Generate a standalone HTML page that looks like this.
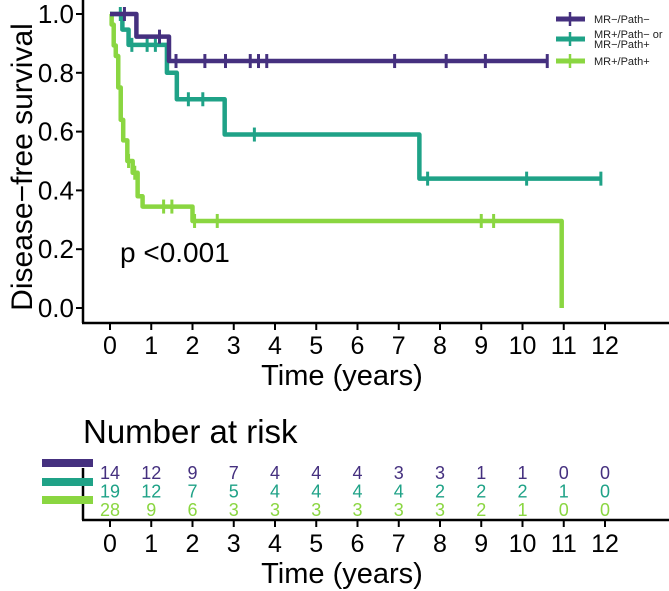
<!DOCTYPE html>
<html><head><meta charset="utf-8"><style>
html,body{margin:0;padding:0;background:#fff;}
svg{display:block;font-family:"Liberation Sans",Arial,sans-serif;}
</style></head><body>
<svg id="chart" width="669" height="591" viewBox="0 0 669 591" xmlns="http://www.w3.org/2000/svg">
<g id="main"></g>
<g id="risk"></g>
</svg>
<script>
const xTicks=[0,1,2,3,4,5,6,7,8,9,10,11,12];
const yTicks=[0,0.2,0.4,0.6,0.8,1.0];
const groupNames=["MR\u2212/Path\u2212","MR+/Path\u2212 or MR\u2212/Path+","MR+/Path+"];
const colors=["#45307f","#1fa287","#8ad641"];
// step drops
const purpleTimes=[0.64,1.43];
const purpleSurv=[0.923,0.84];
const purpleEnd=10.6;
const tealTimes=[0.3,0.45,1.38,1.62,2.78,7.5];
const tealSurv=[0.947,0.895,0.80,0.71,0.59,0.44];
const tealEnd=11.9;
const greenTimes=[0.04,0.09,0.14,0.2,0.26,0.32,0.42,0.55,0.67,0.79,2.0,10.95];
const greenSurv=[0.964,0.893,0.857,0.75,0.64,0.57,0.50,0.46,0.38,0.345,0.296,0];
const greenEnd=10.95;
// censor marks
const purpleCensor=[0.35,1.2,1.6,2.3,2.8,3.4,3.6,3.8,6.9,8.15,9.1,10.6];
const tealCensor=[0.25,0.53,0.9,1.1,1.9,2.25,3.5,7.7,10.1,11.9];
const greenCensor=[0.45,0.6,1.3,1.5,2.05,2.6,9.0,9.3];
// risk table
const riskPurple=[14,12,9,7,4,4,4,3,3,1,1,0,0];
const riskTeal=[19,12,7,5,4,4,4,4,2,2,2,1,0];
const riskGreen=[28,9,6,3,3,3,3,3,3,2,1,0,0];

const NS="http://www.w3.org/2000/svg";
const X=t=>110+t*41.25;
const Y=v=>308-v*294;
function mk(parent,tag,attrs,text){const e=document.createElementNS(NS,tag);for(const k in attrs)e.setAttribute(k,attrs[k]);if(text!==undefined)e.textContent=text;parent.appendChild(e);return e;}
const main=document.getElementById('main');
const risk=document.getElementById('risk');

let e=mk(main,'line',{x1:83,y1:0,x2:83,y2:323,stroke:'#000','stroke-width':2.5});


e=mk(main,'line',{x1:82,y1:323,x2:669,y2:323,stroke:'#000','stroke-width':2.5});


yTicks.forEach(v=>{
  mk(main,'line',{x1:76,x2:83,y1:Y(v),y2:Y(v),stroke:'#000','stroke-width':2});
  e=mk(main,'text',{x:74,y:Y(v)+9,'text-anchor':'end','font-size':26},v.toFixed(1));
  
  
});
xTicks.forEach(t=>{
  mk(main,'line',{x1:X(t),x2:X(t),y1:323,y2:330,stroke:'#000','stroke-width':2});
  e=mk(main,'text',{x:X(t),y:354,'text-anchor':'middle','font-size':25},t);
  
  
});
e=mk(main,'text',{x:342,y:385,'text-anchor':'middle','font-size':29},'Time (years)');


e=mk(main,'text',{x:0,y:0,'text-anchor':'middle','font-size':30,transform:'translate(32,167) rotate(-90)'},'Disease\u2212free survival');


e=mk(main,'text',{x:120,y:262,'font-size':28},'p <0.001');



function curve(times,surv,end,censor,color,name){
  let d=`M${X(0)},${Y(1)}`;
  times.forEach((t,i)=>{d+=` H${X(t)} V${Y(surv[i])}`;});
  const last=times[times.length-1];
  if(end>last) d+=` H${X(end)}`;
  let p=mk(main,'path',{d:d,fill:'none',stroke:color,'stroke-width':4.5,'stroke-linejoin':'round'});
  
  
  censor.forEach(c=>{
    let v=1;times.forEach((t,i)=>{if(t<=c)v=surv[i];});
    let m=mk(main,'line',{x1:X(c),x2:X(c),y1:Y(v)-7,y2:Y(v)+7,stroke:color,'stroke-width':3});
    
    
  });
}
curve(greenTimes,greenSurv,greenEnd,greenCensor,colors[2],'mr-pos-path-pos');
curve(tealTimes,tealSurv,tealEnd,tealCensor,colors[1],'mixed');
curve(purpleTimes,purpleSurv,purpleEnd,purpleCensor,colors[0],'mr-neg-path-neg');

const lg=mk(main,'g',{});


const legY=[19,39,61];
groupNames.forEach((n,i)=>{
  const y=legY[i];
  mk(lg,'line',{x1:556,x2:585,y1:y,y2:y,stroke:colors[i],'stroke-width':5});
  mk(lg,'line',{x1:570,x2:570,y1:y-7,y2:y+7,stroke:colors[i],'stroke-width':2.5});
  if(i===1){
    e=mk(lg,'text',{x:594,y:y-1,'font-size':11,fill:'#222'},'MR+/Path\u2212 or');
    mk(lg,'text',{x:594,y:y+9,'font-size':11,fill:'#222'},'MR\u2212/Path+');
  } else e=mk(lg,'text',{x:594,y:y+4,'font-size':11,fill:'#222'},n);
  
  
});

e=mk(risk,'text',{x:83,y:443,'font-size':33},'Number at risk');


mk(risk,'line',{x1:83,y1:468,x2:83,y2:520,stroke:'#000','stroke-width':2.5});
e=mk(risk,'line',{x1:82,y1:520,x2:669,y2:520,stroke:'#000','stroke-width':2.5});


const barY=[463,482,500];
[riskPurple,riskTeal,riskGreen].forEach((row,i)=>{
  e=mk(risk,'rect',{x:42,y:barY[i]-4,width:51,height:8,fill:colors[i]});
  
  
  row.forEach((n,j)=>{
    e=mk(risk,'text',{x:X(xTicks[j]),y:479+i*18.5,'text-anchor':'middle','font-size':18,fill:colors[i]},n);
    
    
  });
});
xTicks.forEach(t=>{
  mk(risk,'line',{x1:X(t),x2:X(t),y1:520,y2:527,stroke:'#000','stroke-width':2});
  e=mk(risk,'text',{x:X(t),y:552,'text-anchor':'middle','font-size':25},t);
  
  
});
e=mk(risk,'text',{x:342,y:583,'text-anchor':'middle','font-size':29},'Time (years)');


</script>
</body></html>
